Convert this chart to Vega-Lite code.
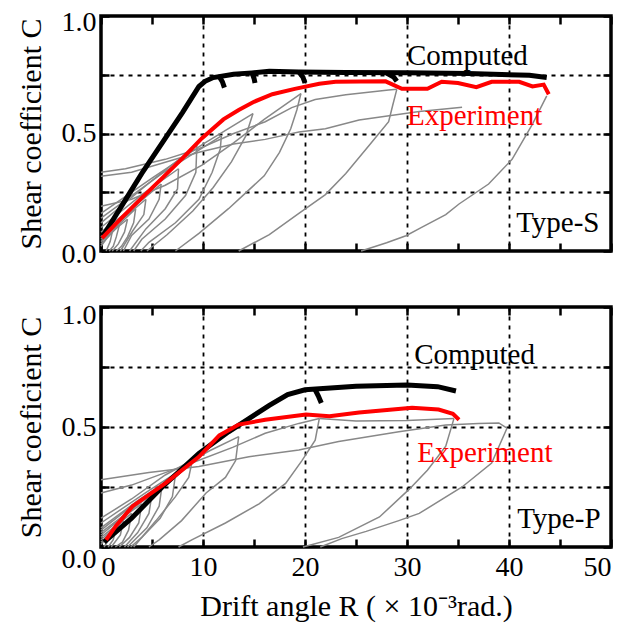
{
  "$schema": "https://vega.github.io/schema/vega-lite/v6.json",
  "background": "white",
  "padding": {"left": 14, "top": 6, "right": 5, "bottom": 5},
  "spacing": 29,
  "config": {
    "font": "Liberation Serif",
    "view": {"stroke": "black", "strokeWidth": 3.5},
    "style": {"guide-label": {"font": "Liberation Serif", "fontSize": 28}, "guide-title": {"font": "Liberation Serif", "fontSize": 30}},
    "axis": {
      "labelFont": "Liberation Serif", "labelFontSize": 28, "labelColor": "black",
      "titleFont": "Liberation Serif", "titleFontSize": 30, "titleFontWeight": "normal", "titleColor": "black",
      "domain": false, "tickColor": "black", "tickWidth": 2.5, "tickSize": -8, "labelPadding": 13,
      "gridColor": "black", "gridDash": [4, 5], "gridWidth": 1.8
    }
  },
  "datasets": {
    "tg": [
      {"s":"t1L","R":0,"C":0.02},{"s":"t1L","R":0.5,"C":0.05},{"s":"t1L","R":1.1,"C":0.08},
      {"s":"t1U","R":1.1,"C":0.08},{"s":"t1U","R":0.9,"C":0.04},{"s":"t1U","R":0.5,"C":0},
      {"s":"t2L","R":0,"C":0.03},{"s":"t2L","R":0.9,"C":0.07},{"s":"t2L","R":1.8,"C":0.11},
      {"s":"t2U","R":1.8,"C":0.11},{"s":"t2U","R":1.5,"C":0.06},{"s":"t2U","R":1.2,"C":0.02},{"s":"t2U","R":0.8,"C":0},
      {"s":"t3L","R":0,"C":0.04},{"s":"t3L","R":1.3,"C":0.09},{"s":"t3L","R":2.6,"C":0.135},
      {"s":"t3U","R":2.6,"C":0.135},{"s":"t3U","R":2.3,"C":0.08},{"s":"t3U","R":1.7,"C":0.03},{"s":"t3U","R":1.1,"C":0},
      {"s":"t4L","R":0,"C":0.05},{"s":"t4L","R":1.7,"C":0.11},{"s":"t4L","R":3.4,"C":0.18},
      {"s":"t4U","R":3.4,"C":0.18},{"s":"t4U","R":3.2,"C":0.12},{"s":"t4U","R":2.6,"C":0.06},{"s":"t4U","R":2,"C":0.02},{"s":"t4U","R":1.5,"C":0},
      {"s":"t5L","R":0,"C":0.06},{"s":"t5L","R":2.2,"C":0.14},{"s":"t5L","R":4.4,"C":0.22},
      {"s":"t5U","R":4.4,"C":0.22},{"s":"t5U","R":4.2,"C":0.155},{"s":"t5U","R":3.1,"C":0.085},{"s":"t5U","R":1.9,"C":0},
      {"s":"t6L","R":0,"C":0.08},{"s":"t6L","R":3,"C":0.18},{"s":"t6L","R":5.9,"C":0.285},
      {"s":"t6U","R":5.9,"C":0.285},{"s":"t6U","R":5.7,"C":0.22},{"s":"t6U","R":4.7,"C":0.136},{"s":"t6U","R":3,"C":0.066},{"s":"t6U","R":2.2,"C":0},
      {"s":"t7L","R":0,"C":0.1},{"s":"t7L","R":4,"C":0.24},{"s":"t7L","R":7.6,"C":0.35},
      {"s":"t7U","R":7.6,"C":0.35},{"s":"t7U","R":7.5,"C":0.264},{"s":"t7U","R":6.3,"C":0.18},{"s":"t7U","R":4.4,"C":0.094},{"s":"t7U","R":2.8,"C":0},
      {"s":"t8L","R":0,"C":0.12},{"s":"t8L","R":5,"C":0.3},{"s":"t8L","R":9.4,"C":0.45},
      {"s":"t8U","R":9.4,"C":0.45},{"s":"t8U","R":9.3,"C":0.335},{"s":"t8U","R":8.3,"C":0.237},{"s":"t8U","R":6.3,"C":0.136},{"s":"t8U","R":4,"C":0.05},{"s":"t8U","R":3.2,"C":0},
      {"s":"t9L","R":0,"C":0.14},{"s":"t9L","R":6,"C":0.33},{"s":"t9L","R":11.8,"C":0.49},
      {"s":"t9U","R":11.8,"C":0.49},{"s":"t9U","R":11.7,"C":0.435},{"s":"t9U","R":10.9,"C":0.335},{"s":"t9U","R":9.6,"C":0.22},{"s":"t9U","R":7.3,"C":0.12},{"s":"t9U","R":4.7,"C":0.037},{"s":"t9U","R":3.9,"C":0},
      {"s":"t10L","R":0,"C":0.16},{"s":"t10L","R":5,"C":0.31},{"s":"t10L","R":10,"C":0.455},{"s":"t10L","R":14.9,"C":0.585},
      {"s":"t10U","R":14.9,"C":0.585},{"s":"t10U","R":14.2,"C":0.49},{"s":"t10U","R":12.8,"C":0.38},{"s":"t10U","R":11,"C":0.27},{"s":"t10U","R":9,"C":0.17},{"s":"t10U","R":6.5,"C":0.07},{"s":"t10U","R":4.5,"C":0},
      {"s":"t11L","R":0,"C":0.19},{"s":"t11L","R":3,"C":0.22},{"s":"t11L","R":6.3,"C":0.28},{"s":"t11L","R":9.9,"C":0.365},{"s":"t11L","R":13,"C":0.46},{"s":"t11L","R":16,"C":0.56},{"s":"t11L","R":19.6,"C":0.67},
      {"s":"t11U","R":19.6,"C":0.67},{"s":"t11U","R":19.2,"C":0.6},{"s":"t11U","R":18.6,"C":0.52},{"s":"t11U","R":17.5,"C":0.42},{"s":"t11U","R":16,"C":0.32},{"s":"t11U","R":14,"C":0.24},{"s":"t11U","R":12.5,"C":0.18},{"s":"t11U","R":9.6,"C":0.075},{"s":"t11U","R":7.3,"C":0},
      {"s":"t12L","R":0,"C":0.335},{"s":"t12L","R":2.4,"C":0.35},{"s":"t12L","R":6.3,"C":0.39},{"s":"t12L","R":9.6,"C":0.435},{"s":"t12L","R":13,"C":0.5},{"s":"t12L","R":16.1,"C":0.55},{"s":"t12L","R":18.7,"C":0.61},{"s":"t12L","R":21,"C":0.645},{"s":"t12L","R":24,"C":0.665},{"s":"t12L","R":28.2,"C":0.685},{"s":"t12L","R":29,"C":0.688},
      {"s":"t12U","R":29,"C":0.688},{"s":"t12U","R":28.6,"C":0.62},{"s":"t12U","R":28.2,"C":0.55},{"s":"t12U","R":26.3,"C":0.45},{"s":"t12U","R":24,"C":0.33},{"s":"t12U","R":22,"C":0.24},{"s":"t12U","R":19.4,"C":0.16},{"s":"t12U","R":16.5,"C":0.07},{"s":"t12U","R":13.5,"C":0},
      {"s":"t13L","R":0,"C":0.318},{"s":"t13L","R":3,"C":0.335},{"s":"t13L","R":9.6,"C":0.42},{"s":"t13L","R":13,"C":0.455},{"s":"t13L","R":16.1,"C":0.475},{"s":"t13L","R":19.4,"C":0.506},{"s":"t13L","R":22,"C":0.52},{"s":"t13L","R":25.3,"C":0.557},{"s":"t13L","R":31.2,"C":0.594},{"s":"t13L","R":35.4,"C":0.612},
      {"s":"t14U","R":43.7,"C":0.66},{"s":"t14U","R":42.3,"C":0.54},{"s":"t14U","R":40.3,"C":0.39},{"s":"t14U","R":38,"C":0.285},{"s":"t14U","R":35.1,"C":0.2},{"s":"t14U","R":33.8,"C":0.155},{"s":"t14U","R":31.2,"C":0.095},{"s":"t14U","R":29.9,"C":0.065},{"s":"t14U","R":28,"C":0.035},{"s":"t14U","R":25.5,"C":0}
    ],
    "tc": [
      {"s":"m","R":0.2,"C":0.065},{"s":"m","R":2,"C":0.19},{"s":"m","R":4,"C":0.33},{"s":"m","R":6,"C":0.46},{"s":"m","R":8,"C":0.59},{"s":"m","R":9.6,"C":0.7},{"s":"m","R":10.2,"C":0.722},{"s":"m","R":11,"C":0.738},{"s":"m","R":13,"C":0.752},{"s":"m","R":14.8,"C":0.758},{"s":"m","R":16.5,"C":0.765},{"s":"m","R":19.4,"C":0.762},{"s":"m","R":24,"C":0.76},{"s":"m","R":30,"C":0.758},{"s":"m","R":36,"C":0.755},{"s":"m","R":42,"C":0.748},{"s":"m","R":43.7,"C":0.738},
      {"s":"h1","R":11.6,"C":0.742},{"s":"h1","R":11.9,"C":0.72},{"s":"h1","R":12.1,"C":0.695},
      {"s":"h2","R":14.8,"C":0.758},{"s":"h2","R":15,"C":0.735},{"s":"h2","R":15.1,"C":0.715},
      {"s":"h3","R":19.4,"C":0.762},{"s":"h3","R":19.8,"C":0.74},{"s":"h3","R":20,"C":0.715},
      {"s":"h4","R":28,"C":0.757},{"s":"h4","R":28.7,"C":0.74},{"s":"h4","R":29,"C":0.722}
    ],
    "te": [
      {"R":0.1,"C":0.055},{"R":2,"C":0.14},{"R":4,"C":0.226},{"R":6,"C":0.31},{"R":8,"C":0.395},{"R":9.9,"C":0.48},{"R":12,"C":0.56},{"R":13.5,"C":0.6},{"R":15,"C":0.635},{"R":16.8,"C":0.667},{"R":19,"C":0.69},{"R":21.4,"C":0.712},{"R":23,"C":0.72},{"R":27.9,"C":0.722},{"R":29.5,"C":0.69},{"R":32,"C":0.69},{"R":33.4,"C":0.72},{"R":35,"C":0.715},{"R":36.8,"C":0.697},{"R":38.3,"C":0.72},{"R":41,"C":0.72},{"R":42.3,"C":0.7},{"R":43.4,"C":0.708},{"R":43.9,"C":0.667}
    ],
    "tt": [
      {"t":"Computed","R":30,"C":0.79},{"t":"Experiment","R":30,"C":0.535},{"t":"Type-S","R":40.7,"C":0.08}
    ],
    "bg": [
      {"s":"b1L","R":0,"C":0.01},{"s":"b1L","R":0.8,"C":0.05},
      {"s":"b1U","R":0.8,"C":0.05},{"s":"b1U","R":0.6,"C":0.02},{"s":"b1U","R":0.3,"C":0},
      {"s":"b2L","R":0,"C":0.02},{"s":"b2L","R":0.8,"C":0.05},{"s":"b2L","R":1.5,"C":0.08},
      {"s":"b2U","R":1.5,"C":0.08},{"s":"b2U","R":1.2,"C":0.03},{"s":"b2U","R":0.7,"C":0},
      {"s":"b3L","R":0,"C":0.03},{"s":"b3L","R":1.1,"C":0.07},{"s":"b3L","R":2.2,"C":0.11},
      {"s":"b3U","R":2.2,"C":0.11},{"s":"b3U","R":1.9,"C":0.05},{"s":"b3U","R":1,"C":0},
      {"s":"b4L","R":0,"C":0.04},{"s":"b4L","R":1.5,"C":0.09},{"s":"b4L","R":3,"C":0.14},
      {"s":"b4U","R":3,"C":0.14},{"s":"b4U","R":2.7,"C":0.07},{"s":"b4U","R":2.1,"C":0.02},{"s":"b4U","R":1.4,"C":0},
      {"s":"b5L","R":0,"C":0.05},{"s":"b5L","R":2,"C":0.12},{"s":"b5L","R":4,"C":0.18},
      {"s":"b5U","R":4,"C":0.18},{"s":"b5U","R":3.7,"C":0.1},{"s":"b5U","R":2.8,"C":0.04},{"s":"b5U","R":1.8,"C":0},
      {"s":"b6L","R":0,"C":0.06},{"s":"b6L","R":2.5,"C":0.14},{"s":"b6L","R":5,"C":0.22},
      {"s":"b6U","R":5,"C":0.22},{"s":"b6U","R":4.7,"C":0.14},{"s":"b6U","R":3.6,"C":0.06},{"s":"b6U","R":2.3,"C":0},
      {"s":"b7L","R":0,"C":0.07},{"s":"b7L","R":3,"C":0.17},{"s":"b7L","R":6,"C":0.26},
      {"s":"b7U","R":6,"C":0.26},{"s":"b7U","R":5.7,"C":0.17},{"s":"b7U","R":4.5,"C":0.08},{"s":"b7U","R":2.6,"C":0},
      {"s":"b8L","R":0,"C":0.08},{"s":"b8L","R":3.5,"C":0.19},{"s":"b8L","R":7.3,"C":0.3},
      {"s":"b8U","R":7.3,"C":0.3},{"s":"b8U","R":7,"C":0.21},{"s":"b8U","R":5.8,"C":0.12},{"s":"b8U","R":4,"C":0.04},{"s":"b8U","R":2.9,"C":0},
      {"s":"b9L","R":0,"C":0.1},{"s":"b9L","R":4.5,"C":0.23},{"s":"b9L","R":8.9,"C":0.35},
      {"s":"b9U","R":8.9,"C":0.35},{"s":"b9U","R":8.6,"C":0.29},{"s":"b9U","R":7.3,"C":0.21},{"s":"b9U","R":5.4,"C":0.11},{"s":"b9U","R":3.8,"C":0.03},{"s":"b9U","R":3.2,"C":0},
      {"s":"b10L","R":0,"C":0.12},{"s":"b10L","R":3,"C":0.2},{"s":"b10L","R":6.3,"C":0.3},{"s":"b10L","R":10.6,"C":0.4},{"s":"b10L","R":13.5,"C":0.46},
      {"s":"b10U","R":13.5,"C":0.46},{"s":"b10U","R":13.2,"C":0.36},{"s":"b10U","R":12.2,"C":0.29},{"s":"b10U","R":10.3,"C":0.225},{"s":"b10U","R":7.9,"C":0.11},{"s":"b10U","R":5.7,"C":0.03},{"s":"b10U","R":4.7,"C":0},
      {"s":"b11L","R":0,"C":0.225},{"s":"b11L","R":3,"C":0.258},{"s":"b11L","R":6.3,"C":0.31},{"s":"b11L","R":8.9,"C":0.35},{"s":"b11L","R":12.9,"C":0.415},{"s":"b11L","R":16.1,"C":0.474},{"s":"b11L","R":19.4,"C":0.515},{"s":"b11L","R":21.4,"C":0.535},
      {"s":"b11U","R":21.4,"C":0.535},{"s":"b11U","R":21,"C":0.445},{"s":"b11U","R":19.7,"C":0.36},{"s":"b11U","R":18.1,"C":0.265},{"s":"b11U","R":15.5,"C":0.18},{"s":"b11U","R":12.2,"C":0.1},{"s":"b11U","R":8.9,"C":0.03},{"s":"b11U","R":7.6,"C":0},
      {"s":"b12L","R":21.4,"C":0.535},{"s":"b12L","R":25,"C":0.525},{"s":"b12L","R":30,"C":0.527},{"s":"b12L","R":34.6,"C":0.535},
      {"s":"b12U","R":34.6,"C":0.535},{"s":"b12U","R":33.8,"C":0.42},{"s":"b12U","R":32,"C":0.32},{"s":"b12U","R":30.2,"C":0.24},{"s":"b12U","R":27.3,"C":0.125},{"s":"b12U","R":23.3,"C":0.04},{"s":"b12U","R":19.8,"C":0},
      {"s":"b13L","R":0,"C":0.28},{"s":"b13L","R":4.7,"C":0.31},{"s":"b13L","R":9.6,"C":0.335},{"s":"b13L","R":14.5,"C":0.376},{"s":"b13L","R":19.4,"C":0.404},{"s":"b13L","R":23.3,"C":0.44},{"s":"b13L","R":29.2,"C":0.48},{"s":"b13L","R":33.8,"C":0.508},{"s":"b13L","R":37,"C":0.515},{"s":"b13L","R":39,"C":0.517},{"s":"b13L","R":39.8,"C":0.495},
      {"s":"b13U","R":39.8,"C":0.495},{"s":"b13U","R":38.3,"C":0.35},{"s":"b13U","R":35.4,"C":0.25},{"s":"b13U","R":31.2,"C":0.14},{"s":"b13U","R":29.2,"C":0.11},{"s":"b13U","R":26,"C":0.065},{"s":"b13U","R":23.6,"C":0.035},{"s":"b13U","R":21.5,"C":0}
    ],
    "bc": [
      {"s":"m","R":0.3,"C":0.02},{"s":"m","R":3,"C":0.12},{"s":"m","R":6,"C":0.25},{"s":"m","R":9.6,"C":0.39},{"s":"m","R":12.5,"C":0.48},{"s":"m","R":14.5,"C":0.535},{"s":"m","R":16.5,"C":0.59},{"s":"m","R":18.3,"C":0.635},{"s":"m","R":20,"C":0.655},{"s":"m","R":25,"C":0.67},{"s":"m","R":30,"C":0.675},{"s":"m","R":33,"C":0.668},{"s":"m","R":34.8,"C":0.65},
      {"s":"h1","R":21,"C":0.655},{"s":"h1","R":21.3,"C":0.63},{"s":"h1","R":21.6,"C":0.6}
    ],
    "be": [
      {"R":0.5,"C":0.03},{"R":1.5,"C":0.09},{"R":3.1,"C":0.17},{"R":6.3,"C":0.265},{"R":9.6,"C":0.376},{"R":11.6,"C":0.465},{"R":13.5,"C":0.51},{"R":16.1,"C":0.53},{"R":20.1,"C":0.552},{"R":22.4,"C":0.545},{"R":25.3,"C":0.56},{"R":30.5,"C":0.58},{"R":33.1,"C":0.573},{"R":34.5,"C":0.555},{"R":35.1,"C":0.53}
    ],
    "bt": [
      {"t":"Computed","R":30.7,"C":0.7625},{"t":"Experiment","R":31,"C":0.355},{"t":"Type-P","R":40.8,"C":0.079}
    ]
  },
  "vconcat": [
    {
      "width": 510, "height": 235,
      "layer": [
        {
          "data": {"name": "tg"},
          "mark": {"type": "line", "color": "#888888", "strokeWidth": 1.5},
          "encoding": {
            "x": {"field": "R", "type": "quantitative", "scale": {"domain": [0, 50], "nice": false},
              "axis": {"orient": "bottom", "values": [0,5,10,15,20,25,30,35,40,45,50], "labels": false, "title": null, "grid": true,
                "gridOpacity": {"condition": {"test": "datum.value % 10 === 0 && datum.value > 0 && datum.value < 50", "value": 1}, "value": 0}}},
            "y": {"field": "C", "type": "quantitative", "scale": {"domain": [0, 1], "nice": false},
              "axis": {"orient": "left", "values": [0,0.25,0.5,0.75,1], "labelExpr": "(datum.value*4) % 2 === 0 ? format(datum.value, '.1f') : ''",
                "labelFont": "Liberation Serif", "titleFont": "Liberation Serif",
                "labelBaseline": "middle",
                "labelOffset": {"condition": [{"test": "datum.value === 1", "value": 6}, {"test": "datum.value === 0", "value": 3}], "value": 0},
                "title": "Shear coefficient C", "titlePadding": 15, "grid": true,
                "gridOpacity": {"condition": {"test": "datum.value > 0 && datum.value < 1", "value": 1}, "value": 0}}},
            "detail": {"field": "s"}
          }
        },
        {
          "data": {"name": "tc"},
          "mark": {"type": "line", "color": "black", "strokeWidth": 5},
          "encoding": {
            "x": {"field": "R", "type": "quantitative", "scale": {"domain": [0, 50], "nice": false},
              "axis": {"orient": "top", "values": [0,5,10,15,20,25,30,35,40,45,50], "labels": false, "title": null, "grid": false}},
            "y": {"field": "C", "type": "quantitative", "scale": {"domain": [0, 1], "nice": false},
              "axis": {"orient": "right", "values": [0,0.25,0.5,0.75,1], "labels": false, "title": null, "grid": false}},
            "detail": {"field": "s"}
          }
        },
        {
          "data": {"name": "te"},
          "mark": {"type": "line", "color": "#ff0000", "strokeWidth": 4},
          "encoding": {
            "x": {"field": "R", "type": "quantitative", "axis": null},
            "y": {"field": "C", "type": "quantitative", "axis": null}
          }
        },
        {
          "data": {"name": "tt"},
          "mark": {"type": "text", "align": "left", "baseline": "alphabetic", "fontSize": 29, "font": "Liberation Serif"},
          "encoding": {
            "x": {"field": "R", "type": "quantitative", "axis": null},
            "y": {"field": "C", "type": "quantitative", "axis": null},
            "text": {"field": "t"},
            "color": {"condition": {"test": "datum.t === 'Experiment'", "value": "#ff0000"}, "value": "black"}
          }
        }
      ],
      "resolve": {"axis": {"x": "independent", "y": "independent"}}
    },
    {
      "width": 510, "height": 240,
      "layer": [
        {
          "data": {"name": "bg"},
          "mark": {"type": "line", "color": "#888888", "strokeWidth": 1.5},
          "encoding": {
            "x": {"field": "R", "type": "quantitative", "scale": {"domain": [0, 50], "nice": false},
              "axis": {"orient": "bottom", "values": [0,5,10,15,20,25,30,35,40,45,50], "labelExpr": "datum.value % 10 === 0 ? datum.label : ''",
                "labelFont": "Liberation Serif", "titleFont": "Liberation Serif", "labelPadding": 14,
                "title": "Drift angle R ( × 10⁻³rad.)", "titlePadding": 10, "grid": true,
                "gridOpacity": {"condition": {"test": "datum.value % 10 === 0 && datum.value > 0 && datum.value < 50", "value": 1}, "value": 0}}},
            "y": {"field": "C", "type": "quantitative", "scale": {"domain": [0, 1], "nice": false},
              "axis": {"orient": "left", "values": [0,0.25,0.5,0.75,1], "labelExpr": "(datum.value*4) % 2 === 0 ? format(datum.value, '.1f') : ''",
                "labelFont": "Liberation Serif", "titleFont": "Liberation Serif",
                "labelBaseline": "middle",
                "labelOffset": {"condition": [{"test": "datum.value === 1", "value": 8}, {"test": "datum.value === 0", "value": 12}], "value": 0},
                "title": "Shear coeficient C", "titlePadding": 15, "grid": true,
                "gridOpacity": {"condition": {"test": "datum.value > 0 && datum.value < 1", "value": 1}, "value": 0}}},
            "detail": {"field": "s"}
          }
        },
        {
          "data": {"name": "bc"},
          "mark": {"type": "line", "color": "black", "strokeWidth": 5},
          "encoding": {
            "x": {"field": "R", "type": "quantitative", "scale": {"domain": [0, 50], "nice": false},
              "axis": {"orient": "top", "values": [0,5,10,15,20,25,30,35,40,45,50], "labels": false, "title": null, "grid": false}},
            "y": {"field": "C", "type": "quantitative", "scale": {"domain": [0, 1], "nice": false},
              "axis": {"orient": "right", "values": [0,0.25,0.5,0.75,1], "labels": false, "title": null, "grid": false}},
            "detail": {"field": "s"}
          }
        },
        {
          "data": {"name": "be"},
          "mark": {"type": "line", "color": "#ff0000", "strokeWidth": 4},
          "encoding": {
            "x": {"field": "R", "type": "quantitative", "axis": null},
            "y": {"field": "C", "type": "quantitative", "axis": null}
          }
        },
        {
          "data": {"name": "bt"},
          "mark": {"type": "text", "align": "left", "baseline": "alphabetic", "fontSize": 29, "font": "Liberation Serif"},
          "encoding": {
            "x": {"field": "R", "type": "quantitative", "axis": null},
            "y": {"field": "C", "type": "quantitative", "axis": null},
            "text": {"field": "t"},
            "color": {"condition": {"test": "datum.t === 'Experiment'", "value": "#ff0000"}, "value": "black"}
          }
        }
      ],
      "resolve": {"axis": {"x": "independent", "y": "independent"}}
    }
  ]
}
